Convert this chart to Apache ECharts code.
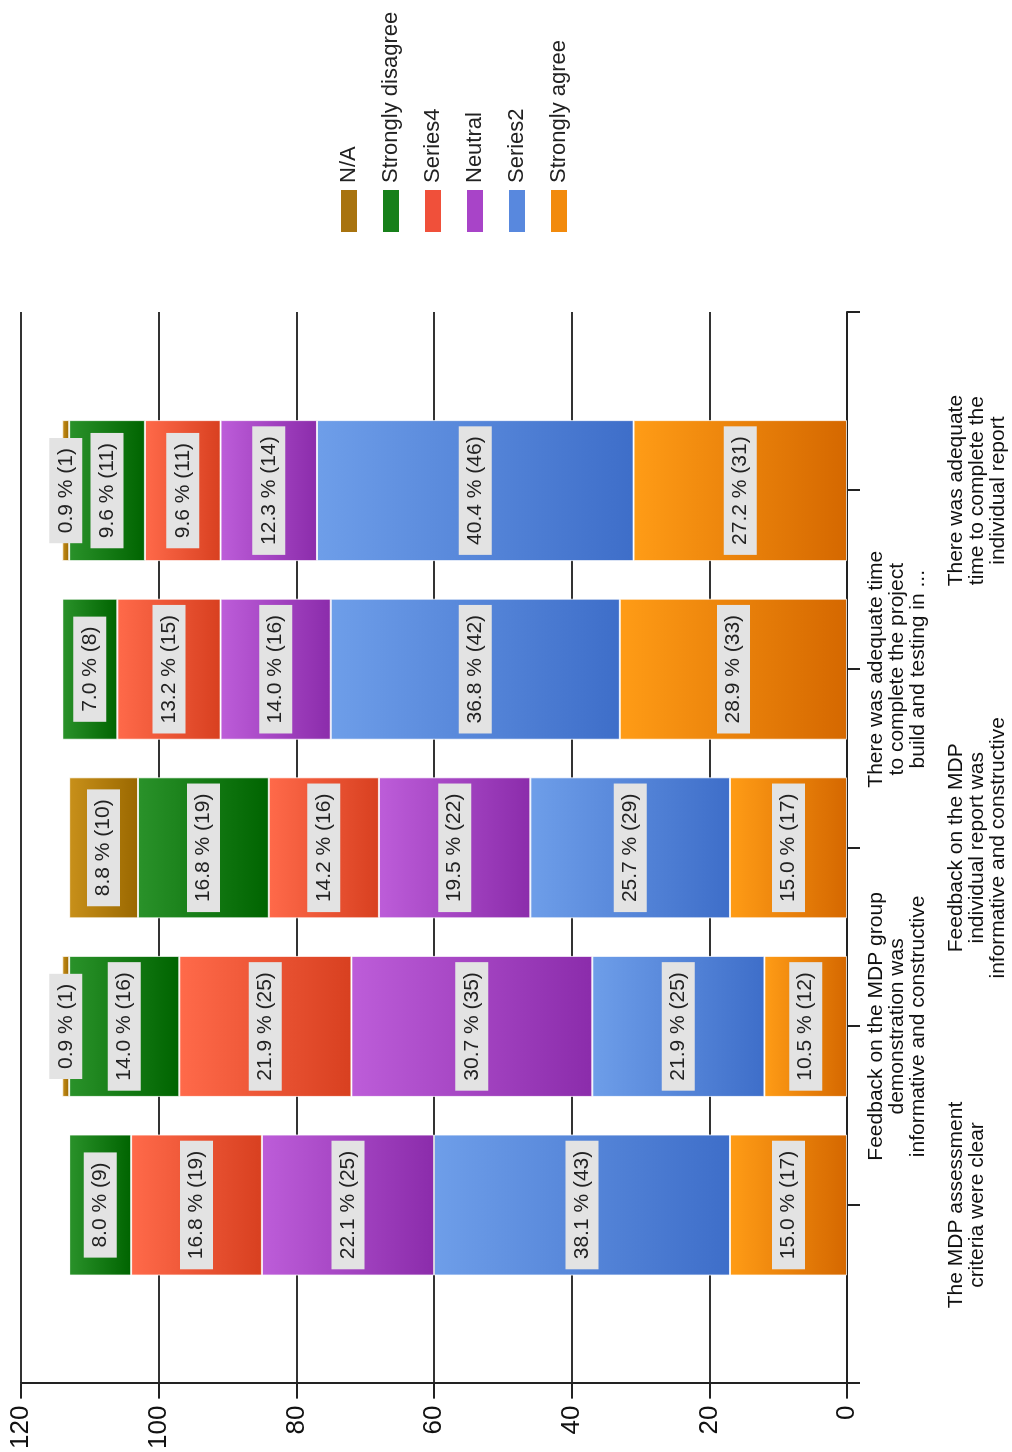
<!DOCTYPE html>
<html><head><meta charset="utf-8">
<script src="https://cdn.jsdelivr.net/npm/echarts@6/dist/echarts.min.js"></script>
<style>
html,body{margin:0;padding:0;background:#fff;overflow:hidden;width:1012px;height:1452px}
#chart{position:absolute;left:0;top:0;width:1452px;height:1012px;transform-origin:0 0;transform:translateY(1452px) rotate(-90deg);background:#fff}
</style></head><body><div id="chart"></div>
<script>
// Categories (line-broken as in the picture)
const categories = [
  'The MDP assessment\ncriteria were clear',
  'Feedback on the MDP group\ndemonstration was\ninformative and constructive',
  'Feedback on the MDP\nindividual report was\ninformative and constructive',
  'There was adequate time\nto complete the project\nbuild and testing in ...',
  'There was adequate\ntime to complete the\nindividual report'
];
const legendOrder = ['N/A', 'Strongly disagree', 'Series4', 'Neutral', 'Series2', 'Strongly agree'];

// Counts per series (bottom of stack first)
const stronglyAgree    = [17, 12, 17, 33, 31];
const series2          = [43, 25, 29, 42, 46];
const neutral          = [25, 35, 22, 16, 14];
const series4          = [19, 25, 16, 15, 11];
const stronglyDisagree = [9, 16, 19, 8, 11];
const notApplicable    = [0, 1, 10, 0, 1];

// Percentages as printed
const stronglyAgreePct    = [15.0, 10.5, 15.0, 28.9, 27.2];
const series2Pct          = [38.1, 21.9, 25.7, 36.8, 40.4];
const neutralPct          = [22.1, 30.7, 19.5, 14.0, 12.3];
const series4Pct          = [16.8, 21.9, 14.2, 13.2, 9.6];
const stronglyDisagreePct = [8.0, 14.0, 16.8, 7.0, 9.6];
const notApplicablePct    = [0, 0.9, 8.8, 0, 0.9];

const valueTicks = [0, 20, 40, 60, 80, 100, 120];

const FONT = 'Liberation Sans, Arial, sans-serif';

const defs = [
  {name: 'Strongly agree',    counts: stronglyAgree,    pct: stronglyAgreePct,    c: ['#ff9c16', '#d56800'], solid: '#f28a0c'},
  {name: 'Series2',           counts: series2,          pct: series2Pct,          c: ['#6e9ee9', '#3e6ec9'], solid: '#5888de'},
  {name: 'Neutral',           counts: neutral,          pct: neutralPct,          c: ['#bd5dd9', '#8b2cab'], solid: '#a844c8'},
  {name: 'Series4',           counts: series4,          pct: series4Pct,          c: ['#ff6a4a', '#d84020'], solid: '#f0503a'},
  {name: 'Strongly disagree', counts: stronglyDisagree, pct: stronglyDisagreePct, c: ['#2a922a', '#006400'], solid: '#17801a'},
  {name: 'N/A',               counts: notApplicable,    pct: notApplicablePct,    c: ['#c8901a', '#9a6800'], solid: '#a8730f'}
];

const xCats = [''].concat(categories, ['']);

const series = defs.map(d => ({
  type: 'bar',
  name: d.name,
  stack: 'total',
  barWidth: 141,
  data: ['-'].concat(d.counts.map(v => ({value: v, label: {show: v > 0}})), ['-']),
  itemStyle: {
    color: new echarts.graphic.LinearGradient(0, 0, 0, 1, [
      {offset: 0, color: d.c[0]}, {offset: 1, color: d.c[1]}
    ]),
    borderColor: 'rgba(255,255,255,0.75)',
    borderWidth: 1
  },
  label: {
    show: true,
    position: 'inside',
    formatter: p => d.pct[p.dataIndex - 1].toFixed(1) + ' % (' + p.value + ')',
    backgroundColor: '#e3e3e3',
    padding: [6, 10],
    color: '#222',
    fontSize: 21,
    lineHeight: 21,
    fontFamily: FONT
  },
  emphasis: {disabled: true},
  animation: false
}));

const chart = echarts.init(document.getElementById('chart'), null, {renderer: 'canvas'});
chart.setOption({
  animation: false,
  backgroundColor: '#fff',
  grid: {left: 67, right: 312, top: 21, bottom: 165, containLabel: false},
  legend: {
    orient: 'vertical',
    left: 1215,
    top: 333,
    itemWidth: 42,
    itemHeight: 16,
    itemGap: 20,
    icon: 'rect',
    textStyle: {fontSize: 22, fontFamily: FONT, color: '#222', padding: [0, 0, 0, 2]},
    data: legendOrder.map(n => {
      const d = defs.find(x => x.name === n);
      return {name: n, itemStyle: {color: d.solid, borderWidth: 0}};
    }),
    selectedMode: false
  },
  xAxis: {
    type: 'category',
    data: xCats,
    boundaryGap: false,
    axisLine: {show: true, lineStyle: {color: '#222', width: 2}},
    axisTick: {show: true, interval: 0, length: 13, lineStyle: {color: '#222', width: 2}},
    splitLine: {show: false},
    axisLabel: {
      interval: 0,
      margin: 19,
      formatter: (val, idx) => {
        if (!val) return '';
        const lines = val.split('\n').map(l => '{t|' + l + '}').join('\n');
        return (idx % 2 === 1) ? '{sp| }\n' + lines : lines;
      },
      rich: {
        t: {fontSize: 21, lineHeight: 21, fontFamily: FONT, color: '#111'},
        sp: {fontSize: 10, lineHeight: 80, height: 80}
      }
    }
  },
  yAxis: {
    type: 'value',
    min: valueTicks[0],
    max: valueTicks[valueTicks.length - 1],
    interval: valueTicks[1] - valueTicks[0],
    axisLine: {show: true, lineStyle: {color: '#222', width: 2}},
    axisTick: {show: true, length: 15, lineStyle: {color: '#222', width: 2}},
    splitLine: {show: true, lineStyle: {color: '#333', width: 2}},
    axisLabel: {fontSize: 26, fontFamily: FONT, color: '#111', margin: 22}
  },
  series: series
});
</script>
</body></html>
